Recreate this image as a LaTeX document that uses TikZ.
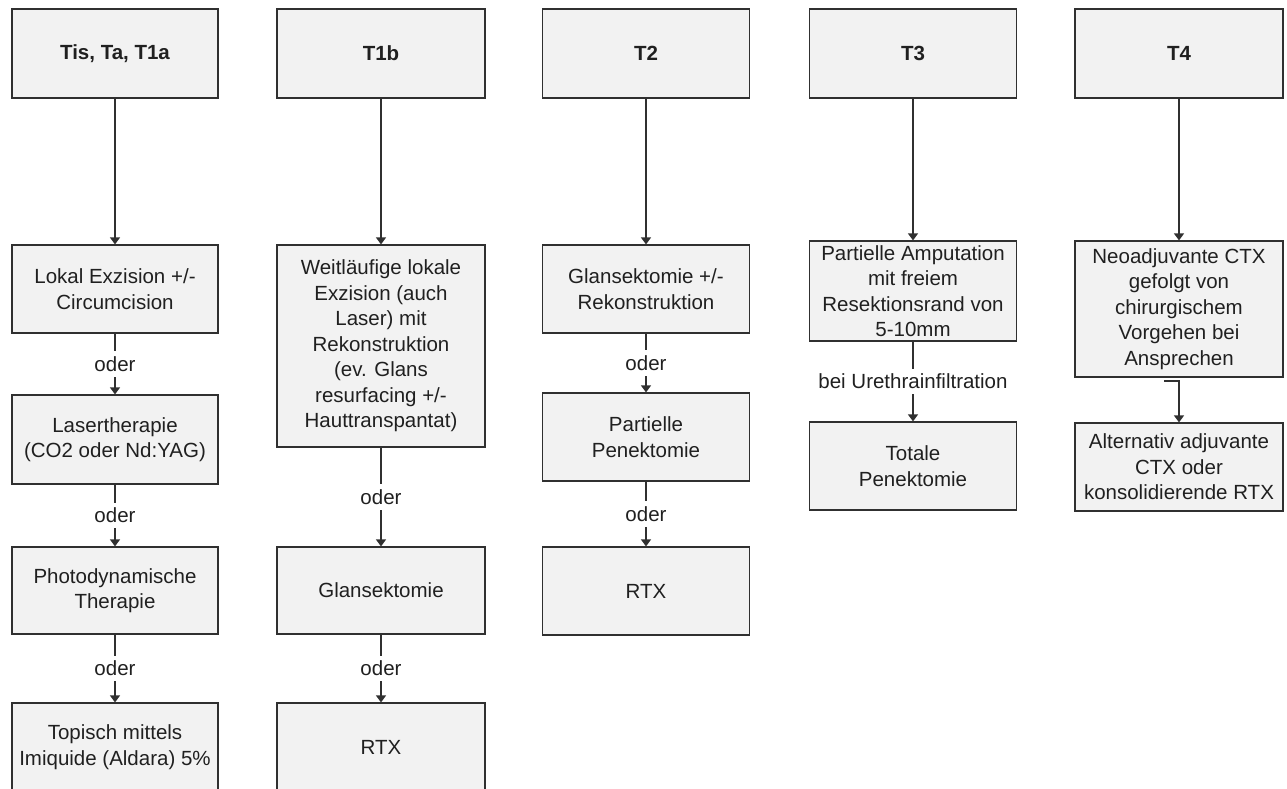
\documentclass[tikz,border=0pt]{standalone}
\usepackage{fontspec}
\setmainfont{Liberation Sans}
\usetikzlibrary{arrows.meta}
\definecolor{boxfill}{HTML}{F2F2F2}
\definecolor{boxline}{HTML}{303030}
\definecolor{txt}{HTML}{202020}
\tikzset{
  box/.style={draw=boxline, fill=boxfill, line width=1.2pt, align=center,
    text=txt, inner sep=2pt, font=\fontsize{20.5}{25.5}\selectfont},
  head/.style={box, minimum height=89pt, font=\fontsize{20.5}{25.5}\selectfont\bfseries},
  conn/.style={draw=boxline, line width=1.2pt},
  arr/.style={conn, -{Triangle[width=10pt,length=7pt]}},
  lab/.style={fill=white, text=txt, inner xsep=2pt, inner ysep=5pt,
    font=\fontsize{20.5}{25.5}\selectfont},
}
\begin{document}
\begin{tikzpicture}[x=1pt,y=-1pt]
\useasboundingbox (0,0) rectangle (1287,789);
\clip (0,0) rectangle (1287,789);
\fill[white] (0,0) rectangle (1287,789);

% Column 1
\node[head, minimum width=206pt] (h1) at (115,53.5) {Tis, Ta, T1a};
\node[box, minimum width=206pt, minimum height=88pt] (a1) at (115,289) {Lokal Exzision +/-\\Circumcision};
\node[box, minimum width=206pt, minimum height=89pt] (a2) at (115,439.5) {Lasertherapie\\(CO2 oder Nd:YAG)};
\node[box, minimum width=206pt, minimum height=87pt] (a3) at (115,590.5) {Photodynamische\\Therapie};
\node[box, minimum width=206pt, minimum height=88pt] (a4) at (115,747) {Topisch mittels\\Imiquide (Aldara) 5\%};

% Column 2
\node[head, minimum width=208pt] (h2) at (381,53.5) {T1b};
\node[box, minimum width=208pt, minimum height=202pt] (b1) at (381,346) {Weitläufige lokale\\Exzision (auch\\Laser) mit\\Rekonstruktion\\(ev. Glans\\resurfacing +/-\\Hauttranspantat)};
\node[box, minimum width=208pt, minimum height=87pt] (b2) at (381,590.5) {Glansektomie};
\node[box, minimum width=208pt, minimum height=88pt] (b3) at (381,747) {RTX};

% Column 3
\node[head, minimum width=207pt] (h3) at (646,53.5) {T2};
\node[box, minimum width=207pt, minimum height=88pt] (c1) at (646,289) {Glansektomie +/-\\Rekonstruktion};
\node[box, minimum width=207pt, minimum height=88pt] (c2) at (646,437) {Partielle\\Penektomie};
\node[box, minimum width=207pt, minimum height=88pt] (c3) at (646,591) {RTX};

% Column 4
\node[head, minimum width=207pt] (h4) at (913,53.5) {T3};
\node[box, minimum width=207pt, minimum height=100pt] (d1) at (913,291) {Partielle Amputation\\mit freiem\\Resektionsrand von\\5-10mm};
\node[box, minimum width=207pt, minimum height=88pt] (d2) at (913,466) {Totale\\Penektomie};

% Column 5
\node[head, minimum width=208pt] (h5) at (1179,53.5) {T4};
\node[box, minimum width=208pt, minimum height=136pt] (e1) at (1179,309) {Neoadjuvante CTX\\gefolgt von\\chirurgischem\\Vorgehen bei\\Ansprechen};
\node[box, minimum width=208pt, minimum height=88pt] (e2) at (1179,467) {Alternativ adjuvante\\CTX oder\\konsolidierende RTX};

% Connectors: header to first box
\draw[arr] (h1) -- (a1);
\draw[arr] (h2) -- (b1);
\draw[arr] (h3) -- (c1);
\draw[arr] (h4) -- (d1);
\draw[arr] (h5) -- (e1);

% oder connectors
\draw[arr] (a1) -- node[lab] (l1) {oder} (a2);
\draw[arr] (a2) -- node[lab] (l2) {oder} (a3);
\draw[arr] (a3) -- node[lab] (l3) {oder} (a4);
\draw[arr] (b1) -- node[lab] (l4) {oder} (b2);
\draw[arr] (b2) -- node[lab] (l5) {oder} (b3);
\draw[arr] (c1) -- node[lab] (l6) {oder} (c2);
\draw[arr] (c2) -- node[lab] (l7) {oder} (c3);
\draw[arr] (d1) -- node[lab] (l8) {bei Urethrainfiltration} (d2);

% T4 elbow
\coordinate (e1s) at (1164,381);
\draw[arr] (e1s) -| (e2);
\end{tikzpicture}
\end{document}
